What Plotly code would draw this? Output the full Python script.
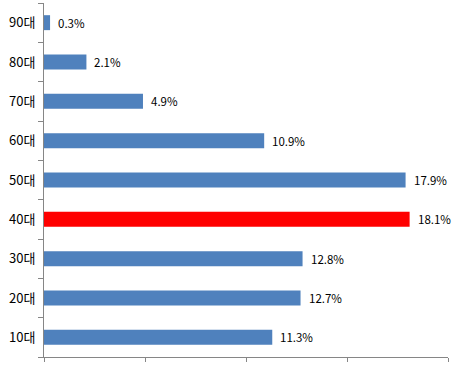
import plotly.graph_objects as go

categories = ["10대", "20대", "30대", "40대", "50대", "60대", "70대", "80대", "90대"]
values = [11.3, 12.7, 12.8, 18.1, 17.9, 10.9, 4.9, 2.1, 0.3]
labels = ["11.3%", "12.7%", "12.8%", "18.1%", "17.9%", "10.9%", "4.9%", "2.1%", "0.3%"]
highlight = "40대"

colors = ["#FF0000" if c == highlight else "#4F81BD" for c in categories]

fig = go.Figure(go.Bar(
    x=values, y=categories, orientation="h",
    marker=dict(color=colors, line=dict(width=0)),
    hoverinfo="x+y",
))

for c, v, t in zip(categories, values, labels):
    fig.add_annotation(x=v, y=c, text=t, showarrow=False, xanchor="left", xshift=6,
                       font=dict(family="Noto Sans CJK KR, Noto Sans", size=11.5, color="#000000"))

fig.update_layout(
    width=462, height=369,
    margin=dict(l=44, r=14, t=3, b=12),
    paper_bgcolor="white", plot_bgcolor="white",
    bargap=0.62, showlegend=False,
    font=dict(family="Noto Sans CJK KR, Noto Sans", size=12, color="#000000"),
)
fig.update_xaxes(range=[0, 20], dtick=5, showticklabels=False, showgrid=False, zeroline=False,
                 showline=True, linecolor="#868686", linewidth=1, automargin=False,
                 ticks="outside", ticklen=4, tickcolor="#868686")
fig.update_yaxes(type="category", categoryorder="array", categoryarray=categories,
                 showgrid=False, showline=True, linecolor="#868686", linewidth=1, automargin=False,
                 ticks="outside", ticklen=5, tickcolor="#868686", tickson="boundaries",
                 ticklabelstandoff=5,
                 tickfont=dict(size=13, color="#000000"))

fig.write_html("out.html", config={"displayModeBar": False},
               post_script="document.body.style.margin='0';document.body.style.overflow='hidden';")
